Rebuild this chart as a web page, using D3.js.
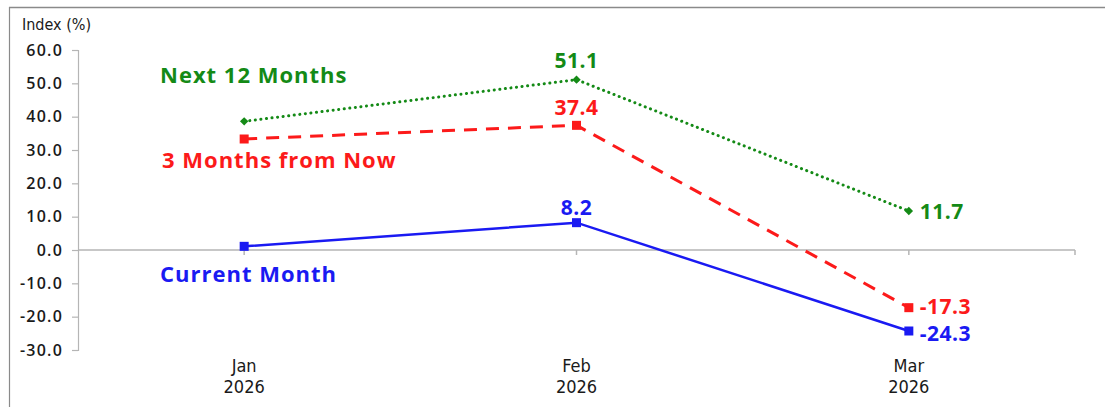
<!DOCTYPE html>
<html>
<head>
<meta charset="utf-8">
<script src="https://cdn.jsdelivr.net/npm/d3@7"></script>
<style>
  html, body { margin: 0; padding: 0; background: #fff; }
  svg { display: block; }
</style>
</head>
<body>
<svg id="chart" width="1105" height="407"></svg>
<script>
// Monthly index readings
const months = ["Jan 2026", "Feb 2026", "Mar 2026"];
const seriesNames = ["Next 12 Months", "3 Months from Now", "Current Month"];
const next12Months = [38.6, 51.1, 11.7];
const threeMonthsFromNow = [33.3, 37.4, -17.3];
const currentMonth = [1.1, 8.2, -24.3];
const yTicks = [60, 50, 40, 30, 20, 10, 0, -10, -20, -30];

const svg = d3.select("#chart");

// plain hyphen for negative numbers
const locale = d3.formatLocale({ decimal: ".", thousands: ",", grouping: [3], currency: ["", ""], minus: "-" });
const fmt = locale.format(".1f");

// outer frame
svg.append("line").attr("x1", 9).attr("x2", 1105).attr("y1", 7.5).attr("y2", 7.5)
  .attr("stroke", "#8a8a8a").attr("stroke-width", 1.5);
svg.append("line").attr("x1", 9.5).attr("x2", 9.5).attr("y1", 7).attr("y2", 407)
  .attr("stroke", "#8a8a8a").attr("stroke-width", 1.2);

const plotLeft = 78, plotRight = 1075, plotTop = 50, plotBottom = 350;

const x = d3.scaleBand().domain(months).range([plotLeft, plotRight]);
const xc = d => x(d) + x.bandwidth() / 2;
const y = d3.scaleLinear().domain([-30, 60]).range([plotBottom, plotTop]);

// y axis
const yAxis = d3.axisLeft(y).tickValues(yTicks).tickFormat(fmt).tickSize(6).tickPadding(9);
const gy = svg.append("g").attr("transform", `translate(${plotLeft},0)`).call(yAxis);
gy.select(".domain").attr("stroke", "#b5b5b5").attr("stroke-width", 1.2);
gy.selectAll(".tick line").attr("stroke", "#b5b5b5").attr("stroke-width", 1.2);
gy.selectAll(".tick text")
  .attr("fill", "#1a1a1a")
  .style("font-family", "'Open Sans', sans-serif")
  .style("font-weight", 600)
  .style("font-size", "16px")
  .style("letter-spacing", "1.2px");

// zero line with category ticks
const zeroY = y(0);
svg.append("line").attr("x1", plotLeft).attr("x2", plotRight).attr("y1", zeroY).attr("y2", zeroY)
  .attr("stroke", "#b5b5b5").attr("stroke-width", 1.5);
svg.selectAll("line.xtick").data(months.map(xc).concat([plotRight])).enter().append("line")
  .attr("class", "xtick")
  .attr("x1", d => d).attr("x2", d => d)
  .attr("y1", zeroY).attr("y2", zeroY + 5)
  .attr("stroke", "#b5b5b5").attr("stroke-width", 1.5);

const narrowFont = "'Liberation Sans Narrow', 'DejaVu Sans Condensed', 'Arial Narrow', sans-serif";

// x category labels (month and year on separate lines)
const monthPart = months.map(m => ({ key: m, text: m.split(" ")[0], row: 0 }));
const yearPart = months.map(m => ({ key: m, text: m.split(" ")[1], row: 1 }));
svg.selectAll("text.xlab").data(monthPart.concat(yearPart)).enter().append("text")
  .attr("class", "xlab")
  .attr("x", d => xc(d.key))
  .attr("y", d => 372 + d.row * 21)
  .attr("text-anchor", "middle")
  .attr("fill", "#1a1a1a")
  .style("font-family", narrowFont)
  .style("font-size", "18px")
  .text(d => d.text);

// y axis title
svg.append("text").attr("x", 22).attr("y", 30)
  .attr("fill", "#1a1a1a")
  .style("font-family", narrowFont)
  .style("font-size", "16px")
  .text("Index (%)");

const green = "#148a16", red = "#fc1a1a", blue = "#1a1af2";
const line = d3.line().x((d, i) => xc(months[i])).y(d => y(d));

// Next 12 Months: dotted with diamonds
svg.append("path").datum(next12Months).attr("d", line)
  .attr("fill", "none").attr("stroke", green).attr("stroke-width", 3)
  .attr("stroke-dasharray", "0.1 5.5").attr("stroke-linecap", "round");
svg.selectAll("path.dia").data(next12Months).enter().append("path")
  .attr("class", "dia")
  .attr("d", d3.symbol().type(d3.symbolDiamond2).size(45))
  .attr("transform", (d, i) => `translate(${xc(months[i])},${y(d)})`)
  .attr("fill", green);

// 3 Months from Now: dashed with squares
svg.append("path").datum(threeMonthsFromNow).attr("d", line)
  .attr("fill", "none").attr("stroke", red).attr("stroke-width", 3)
  .attr("stroke-dasharray", "13 9");
svg.selectAll("rect.rsq").data(threeMonthsFromNow).enter().append("rect")
  .attr("class", "rsq")
  .attr("x", (d, i) => xc(months[i]) - 4.5).attr("y", d => y(d) - 4.5)
  .attr("width", 9).attr("height", 9).attr("fill", red);

// Current Month: solid with squares
svg.append("path").datum(currentMonth).attr("d", line)
  .attr("fill", "none").attr("stroke", blue).attr("stroke-width", 2.5);
svg.selectAll("rect.bsq").data(currentMonth).enter().append("rect")
  .attr("class", "bsq")
  .attr("x", (d, i) => xc(months[i]) - 4.5).attr("y", d => y(d) - 4.5)
  .attr("width", 9).attr("height", 9).attr("fill", blue);

const boldFont = sel => sel
  .style("font-family", "'Open Sans', sans-serif")
  .style("font-weight", 700);

// series names
const seriesLabels = [
  { name: seriesNames[0], x: 160, y: 83, color: green },
  { name: seriesNames[1], x: 162, y: 168, color: red },
  { name: seriesNames[2], x: 160, y: 282, color: blue }
];
svg.selectAll("text.sname").data(seriesLabels).enter().append("text")
  .attr("class", "sname")
  .attr("x", d => d.x).attr("y", d => d.y)
  .attr("fill", d => d.color)
  .style("font-size", "22px")
  .style("letter-spacing", "1px")
  .call(boldFont)
  .text(d => d.name);

// value labels: Feb above the point, Mar to the right
const valueLabels = [
  { v: next12Months[1], i: 1, dy: -12, color: green },
  { v: threeMonthsFromNow[1], i: 1, dy: -10, color: red },
  { v: currentMonth[1], i: 1, dy: -8, color: blue },
  { v: next12Months[2], i: 2, dy: 8, color: green },
  { v: threeMonthsFromNow[2], i: 2, dy: 6, color: red },
  { v: currentMonth[2], i: 2, dy: 10, color: blue }
];
svg.selectAll("text.vlab").data(valueLabels).enter().append("text")
  .attr("class", "vlab")
  .attr("x", d => d.i === 1 ? xc(months[d.i]) : xc(months[d.i]) + 11)
  .attr("y", d => y(d.v) + d.dy)
  .attr("text-anchor", d => d.i === 1 ? "middle" : "start")
  .attr("fill", d => d.color)
  .style("font-size", "21px")
  .style("letter-spacing", "0.5px")
  .call(boldFont)
  .text(d => fmt(d.v));
</script>
</body>
</html>
